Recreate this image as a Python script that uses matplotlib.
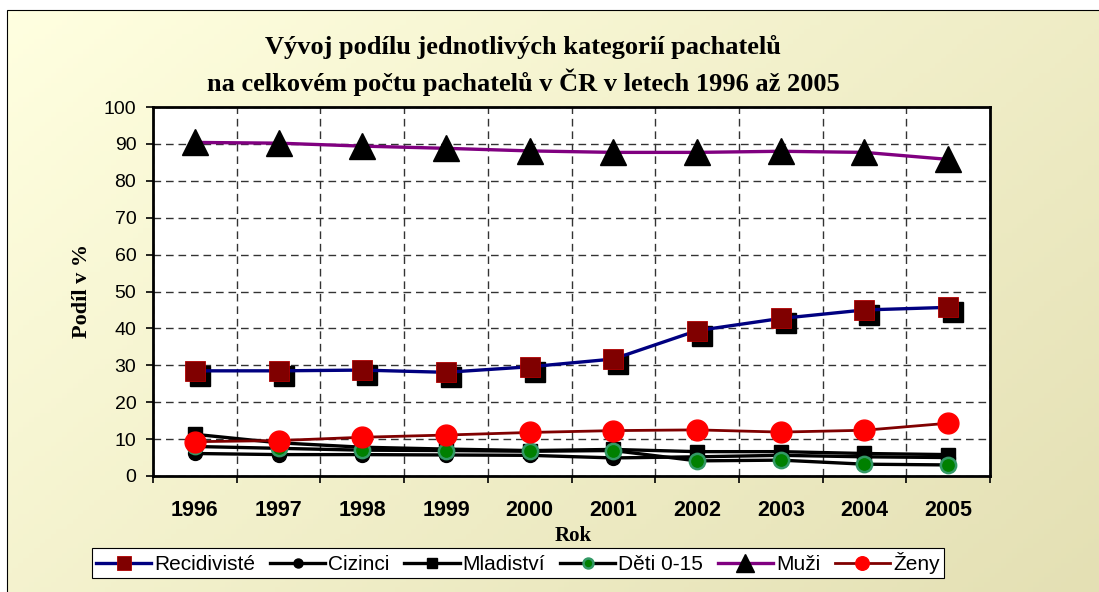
import numpy as np
import matplotlib
matplotlib.use("Agg")
import matplotlib.pyplot as plt
import matplotlib.transforms as mtransforms
from matplotlib.patches import Rectangle
from matplotlib.colors import LinearSegmentedColormap

years = ["1996", "1997", "1998", "1999", "2000", "2001", "2002", "2003", "2004", "2005"]
recidiviste = [28.5, 28.5, 28.7, 28.1, 29.6, 31.7, 39.4, 42.7, 45.0, 45.7]
cizinci = [6.1, 5.8, 5.8, 5.7, 5.6, 4.9, 5.2, 5.6, 5.2, 5.0]
mladistvi = [11.3, 9.0, 7.8, 7.3, 6.9, 7.2, 6.6, 6.6, 6.1, 5.8]
deti = [8.0, 7.5, 7.0, 6.9, 6.7, 6.9, 4.1, 4.3, 3.2, 3.0]
muzi = [90.4, 90.2, 89.4, 88.8, 88.1, 87.7, 87.7, 88.0, 87.7, 85.8]
zeny = [9.3, 9.6, 10.5, 11.1, 11.8, 12.3, 12.5, 11.9, 12.4, 14.3]
yticks = list(range(0, 101, 10))

SANS = "Liberation Sans"
SERIF = "Liberation Serif"

fig = plt.figure(figsize=(10.99, 5.92), dpi=100)
fig.patch.set_facecolor("white")

# background gradient
bg = fig.add_axes([0, 0, 1, 1], zorder=-10)
bg.axis("off")
nx, ny = 200, 120
gx, gy = np.meshgrid(np.linspace(0, 1, nx), np.linspace(0, 1, ny))
g = (gx * 0.6 + gy * 0.4)
cmap = LinearSegmentedColormap.from_list("bgc", ["#FFFFE0", "#E4E0B4"])
bg.imshow(g, cmap=cmap, extent=[7 / 1099, 1, 0, 1 - 10 / 592], aspect="auto",
          origin="upper", vmin=0, vmax=1)
bg.set_xlim(0, 1)
bg.set_ylim(0, 1)
bg.add_patch(Rectangle((7 / 1099, -0.1), 1.2, 1.1 - 10 / 592, fill=False,
                       edgecolor="black", linewidth=0.8, transform=bg.transAxes))

ax = fig.add_axes([153 / 1099, 1 - 476 / 592, (990 - 153) / 1099, (476 - 107) / 592])
ax.set_facecolor("white")
x = np.arange(len(years))

# shadow for Recidivisté markers
shadow_tr = mtransforms.offset_copy(ax.transData, fig=fig, x=5, y=-5, units="dots")
ax.plot(x, recidiviste, linestyle="none", marker="s", markersize=14.5,
        color="black", transform=shadow_tr, zorder=2)

ax.plot(x, recidiviste, color="#000080", lw=2.4, marker="s", markersize=14.5,
        markerfacecolor="#800000", markeredgecolor="#B00000", markeredgewidth=0.6,
        label="Recidivisté", zorder=3)
ax.plot(x, cizinci, color="black", lw=2.4, marker="o", markersize=10,
        markerfacecolor="black", markeredgecolor="black", label="Cizinci", zorder=3)
ax.plot(x, mladistvi, color="black", lw=2.4, marker="s", markersize=10.5,
        markerfacecolor="black", markeredgecolor="black", label="Mladiství", zorder=3)
ax.plot(x, deti, color="black", lw=2.4, marker="o", markersize=11,
        markerfacecolor="#008000", markeredgecolor="#339966", markeredgewidth=1.8,
        label="Děti 0-15", zorder=4)
ax.plot(x, muzi, color="#800080", lw=2.4, marker="^", markersize=19,
        markerfacecolor="black", markeredgecolor="black", label="Muži", zorder=3)
ax.plot(x, zeny, color="#800000", lw=2.0, marker="o", markersize=15,
        markerfacecolor="#FF0000", markeredgecolor="#FF0000", label="Ženy", zorder=5)

ax.set_xlim(-0.5, len(years) - 0.5)
ax.set_ylim(0, 100)
ax.set_yticks(yticks)
ax.set_yticklabels([str(v) for v in yticks], fontfamily=SANS, fontsize=14)
ax.set_xticks(x)
ax.set_xticklabels(years, fontfamily=SANS, fontsize=15.5, fontweight="bold")
ax.set_xticks(np.arange(len(years) + 1) - 0.5, minor=True)
ax.tick_params(axis="x", which="major", length=0, pad=17)
ax.tick_params(axis="x", which="minor", length=5, width=1.2, direction="out")
ax.tick_params(axis="y", which="major", length=5, width=1.2, direction="out", pad=7)

ax.grid(True, which="major", axis="y", color="#333333", linestyle=(0, (5.5, 3.5)), lw=1)
ax.grid(True, which="minor", axis="x", color="#333333", linestyle=(0, (5.5, 3.5)), lw=1)
ax.set_axisbelow(True)
for s in ax.spines.values():
    s.set_linewidth(2)
    s.set_color("black")

fig.text(523 / 1099, 1 - 47 / 592, "Vývoj podílu jednotlivých kategorií pachatelů",
         ha="center", va="center", fontfamily=SERIF, fontweight="bold", fontsize=19)
fig.text(523 / 1099, 1 - 82 / 592, "na celkovém počtu pachatelů v ČR v letech 1996 až 2005",
         ha="center", va="center", fontfamily=SERIF, fontweight="bold", fontsize=19)
fig.text(82 / 1099, 1 - 291 / 592, "Podíl v %", rotation=90, ha="center", va="center",
         fontfamily=SERIF, fontweight="bold", fontsize=16)
fig.text(573 / 1099, 1 - 536 / 592, "Rok", ha="center", va="center",
         fontfamily=SERIF, fontweight="bold", fontsize=15)

leg = fig.legend(loc="center", bbox_to_anchor=(518 / 1099, 1 - 563 / 592), ncol=6,
                 frameon=True, fancybox=False, edgecolor="black", facecolor="white",
                 framealpha=1, prop={"family": SANS, "size": 15}, markerscale=0.65,
                 handlelength=2.65, handletextpad=0.15, columnspacing=0.7,
                 borderpad=0.2, borderaxespad=0)
leg.get_frame().set_linewidth(0.8)

fig.savefig("out.png", dpi=100)
